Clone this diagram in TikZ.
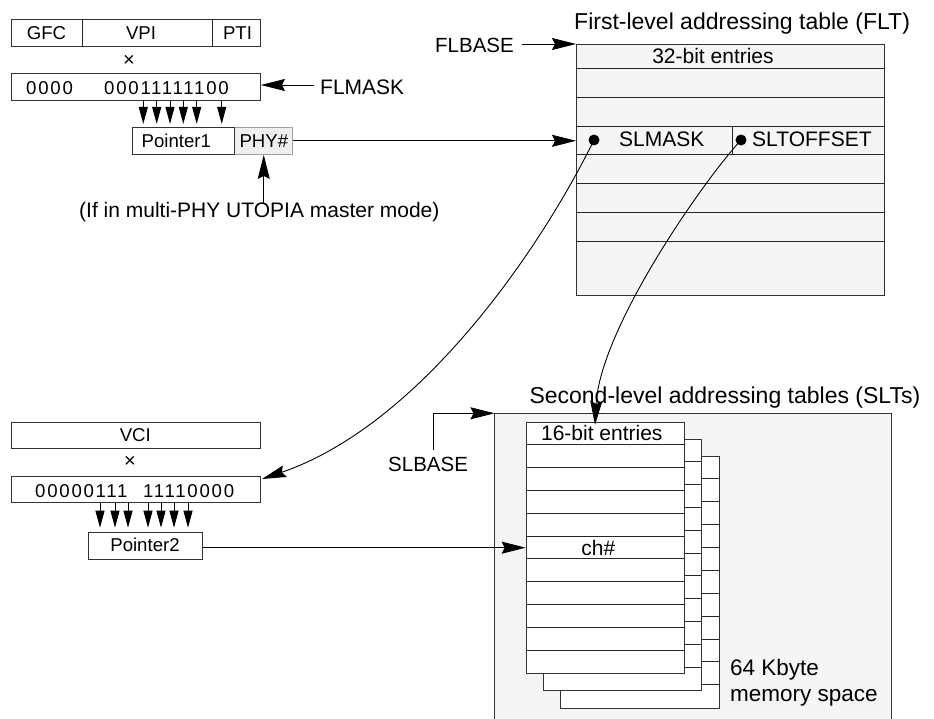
\documentclass[tikz,border=0pt]{standalone}
\usepackage{fontspec}
\setmainfont{Liberation Sans}
\usetikzlibrary{arrows.meta}
\definecolor{panel}{HTML}{F5F5F5}
\definecolor{phyfill}{HTML}{EFEFEF}
\definecolor{phyline}{HTML}{A0A0A0}
\begin{document}
\begin{tikzpicture}[x=1pt,y=-1pt,
  bx/.style={draw=black!80, line width=0.9pt, rectangle, inner sep=0pt, anchor=north west},
  rowline/.style={draw=black!85, line width=0.9pt},
  tsmall/.style={font=\fontsize{18.6pt}{22pt}\selectfont, inner sep=0pt, anchor=base},
  tmask/.style={font=\fontsize{18.6pt}{22pt}\selectfont\addfontfeature{LetterSpace=9.5}, inner sep=0pt, anchor=base west},
  ttab/.style={font=\fontsize{21pt}{25pt}\selectfont, inner sep=0pt, anchor=base},
  tlbl/.style={font=\fontsize{21pt}{25pt}\selectfont, inner sep=0pt, anchor=base west},
  ttitle/.style={font=\fontsize{23pt}{27pt}\selectfont, inner sep=0pt, anchor=base west},
  bigarrow/.style={draw=black, line width=0.9pt, -{Stealth[length=24pt,width=12pt,inset=3pt]}},
  smallarrow/.style={draw=black, line width=0.9pt, -{Triangle[length=17pt,width=9pt]}},
  dotmark/.style={circle, fill=black, inner sep=0pt, minimum size=11pt}
]
\useasboundingbox (0,0) rectangle (934,719);

% ---------- top-left: header and FLMASK ----------
\node[bx, minimum width=249pt, minimum height=26.4pt] (hdr) at (11,19.3) {};
\draw[rowline] (82.3,19.3) -- (82.3,45.7);
\draw[rowline] (212.3,19.3) -- (212.3,45.7);
\node[tsmall] (gfc) at (46.5,40) {GFC};
\node[tsmall] (vpi) at (141,40) {VPI};
\node[tsmall] (pti) at (237.5,40) {PTI};
\node[font=\fontsize{20pt}{22pt}\selectfont, inner sep=0pt] (x1) at (129,61) {×};

\node[bx, minimum width=249pt, minimum height=27pt] (mask1) at (11,73) {};
\node[tmask] (m1a) at (26,94.3) {0000};
\node[tmask] (m1b) at (104,94.3) {00011111100};

\foreach \d in {132.3,145.7,159,172.3,185.7,210.7}
  \draw[smallarrow] ([xshift=\d pt]mask1.south west) -- ++(0,23);

\node[tlbl] (flmask) at (320,95) {FLMASK};
\coordinate (fmk) at (314,85);
\draw[bigarrow] (fmk) -- (fmk -| mask1.east);

\node[bx, fill=phyfill, draw=phyline, minimum width=58pt, minimum height=27.3pt] (phy) at (234.3,126.7) {};
\node[bx, minimum width=102.6pt, minimum height=27.3pt] (p1) at (131.7,126.7) {};
\node[tsmall] (p1t) at (176.3,147.7) {Pointer1};
\node[tsmall] (phyt) at (263.8,147.7) {PHY\#};

\node[tlbl] (iftext) at (79,218) {(If in multi-PHY UTOPIA master mode)};
\draw[bigarrow] (iftext.north -| phy.south) -- (phy.south);

% ---------- FLT ----------
\node[ttitle] (flttitle) at (574,30) {First-level addressing table (FLT)};
\node[bx, fill=panel, minimum width=308pt, minimum height=251pt] (flt) at (576,44) {};
\foreach \y in {68.5,97,126,154.5,183.5,212.5,241}
  \draw[rowline] (576,\y) -- (884,\y);
\draw[rowline] (732,126) -- (732,154.5);
\node[ttab] (e32) at (713,63.5) {32-bit entries};
\node[tlbl] (slm) at (619,147) {SLMASK};
\node[tlbl] (slo) at (752,147) {SLTOFFSET};
\node[dotmark] (d1) at (594,140) {};
\node[dotmark] (d2) at (741,140) {};

\node[font=\fontsize{20.5pt}{25pt}\selectfont, inner sep=0pt, anchor=base west] (flbase) at (435,52.7) {FLBASE};
\coordinate (fbk) at (521.7,44);
\draw[bigarrow] (fbk) -- (flt.north west);

\draw[bigarrow] (phy.east) -- (phy.east -| flt.west);

% ---------- SLT panel ----------
\fill[panel] (494.5,719) -- (494.5,413.3) -- (891,413.3) -- (891,719) -- cycle;
\draw[draw=black!80, line width=0.9pt] (494.5,719) -- (494.5,413.3) -- (891,413.3) -- (891,719);
\coordinate (sltnw) at (494.5,413.3);
\node[ttitle] (slttitle) at (529.3,403.3) {Second-level addressing tables (SLTs)};

\foreach \o in {34.3,17} {
  \node[bx, fill=white, minimum width=158.6pt, minimum height=251.6pt] at (525.7+\o,421.7+\o) {};
  \foreach \i in {1,...,10}
    \draw[rowline] (525.7+\o,421.7+\o+\i*22.87) -- (684.3+\o,421.7+\o+\i*22.87);
}
\node[bx, fill=white, minimum width=158.6pt, minimum height=251.6pt] (slt) at (525.7,421.7) {};
\foreach \i in {1,...,10}
  \draw[rowline] (525.7,421.7+\i*22.87) -- (684.3,421.7+\i*22.87);
\node[inner sep=0pt, minimum width=158.6pt, minimum height=22.87pt, anchor=north west] (chrow) at (525.7,536.05) {};
\node[ttab] (e16) at (601.8,440.7) {16-bit entries};
\node[ttab] (ch) at (598.3,555) {ch\#};

\node[font=\fontsize{22.5pt}{27pt}\selectfont, inner sep=0pt, anchor=base west] (kb) at (730,675) {64 Kbyte};
\node[font=\fontsize{22.5pt}{27pt}\selectfont, inner sep=0pt, anchor=base west] (ms) at (730,701.7) {memory space};

\node[font=\fontsize{20.5pt}{25pt}\selectfont, inner sep=0pt, anchor=base west] (slbase) at (388,471.7) {SLBASE};
\coordinate (sbk) at (433.3,450);
\draw[bigarrow] (sbk) |- (sltnw);

% ---------- bottom-left: VCI ----------
\node[bx, minimum width=249pt, minimum height=26.6pt] (vci) at (11,421.7) {};
\node[tsmall] (vcit) at (135.3,441.7) {VCI};
\node[font=\fontsize{20pt}{22pt}\selectfont, inner sep=0pt] (x2) at (130,461.7) {×};
\node[bx, minimum width=249pt, minimum height=26.6pt] (mask2) at (11,475.7) {};
\node[tmask] (m2a) at (35,497.3) {00000111};
\node[tmask] (m2b) at (143,497.3) {11110000};
\foreach \d in {89,104,117,137,150,163,177}
  \draw[smallarrow] ([xshift=\d pt]mask2.south west) -- ++(0,24.5);
\node[bx, minimum width=113.4pt, minimum height=27.3pt] (p2) at (88.3,531.7) {};
\node[tsmall] (p2t) at (145,551.7) {Pointer2};
\draw[bigarrow] (p2.east |- chrow.west) -- (chrow.west);

% ---------- curved connectors ----------
\coordinate (slmtip) at (262,479);
\coordinate (slotip) at (595,425);
\draw[bigarrow] (d1.center) .. controls (540,250) and (420,425) .. (slmtip);
\draw[bigarrow] (d2.center) .. controls (700,185) and (600,330) .. (slotip);
\end{tikzpicture}
\end{document}
